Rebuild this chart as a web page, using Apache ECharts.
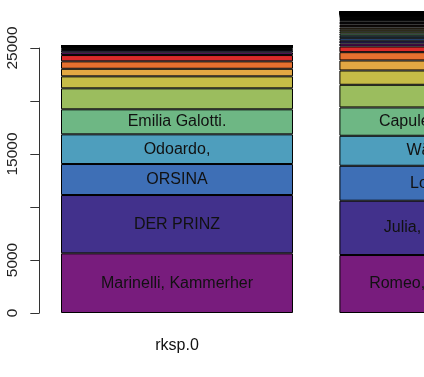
<!DOCTYPE html>
<html>
<head>
<meta charset="utf-8">
<script src="https://cdn.jsdelivr.net/npm/echarts@6/dist/echarts.min.js"></script>
<style>
html,body{margin:0;padding:0;background:#fff;}
#c{width:424px;height:377px;}
</style>
</head>
<body>
<div id="c"></div>
<script>
// Categories (plays)
const categories = ['rksp.0', 'rksp.1'];
// Character word counts by rank (largest first), per play
const play1Values = [5630, 5500, 2925, 2800, 2360, 1980, 1130, 715, 700, 595, 255, 215, 120, 90, 60, 45, 35, 25, 20, 15, 10];
const play2Values = [5470, 5120, 3300, 2830, 2670, 2140, 1350, 945, 780, 540,
  280, 260, 240, 230, 220, 200, 190, 170, 150, 130,
  150, 140, 120, 100, 90, 80, 70, 60, 55, 50, 40, 35, 30, 28, 25, 22, 20, 15, 12, 10, 8, 8, 6, 5, 5];
// Segment labels (character names) per play, by rank
const play1Names = ['Marinelli, Kammerher', 'DER PRINZ', 'ORSINA', 'Odoardo,', 'Emilia Galotti.'];
const play2Names = ['Romeo, Montagues Soh', 'Julia, Capulets Toch', 'Lorenzo, Abt', 'Wärterin Julia', 'Capulet, Haupt des H'];
// Y tick labels
const yTicks = [0, 5000, 10000, 15000, 20000, 25000];
const yTickLabels = ['0', '5000', '', '15000', '', '25000'];

const palette = ['#781c7d', '#42318c', '#3e6fb6', '#4e9ebd', '#6eb784', '#9bbd5e', '#c6bc47', '#e3a843', '#e6702f', '#db2a2a'];

const n = Math.max(play1Values.length, play2Values.length);
const series = [];
for (let i = 0; i < n; i++) {
  series.push({
    type: 'bar',
    stack: 'total',
    xAxisIndex: 0,
    yAxisIndex: 0,
    barCategoryGap: '16.667%',
    data: [
      i < play1Values.length ? play1Values[i] : '-',
      i < play2Values.length ? play2Values[i] : '-'
    ],
    itemStyle: { color: palette[i % palette.length], borderColor: '#000', borderWidth: 1 },
    label: {
      show: i < 5,
      position: 'inside',
      color: '#111',
      fontFamily: 'Liberation Sans, Arial, sans-serif',
      fontSize: 16,
      formatter: function (p) { return p.dataIndex === 0 ? (play1Names[i] || '') : (play2Names[i] || ''); }
    },
    emphasis: { disabled: true },
    animation: false
  });
}

const chart = echarts.init(document.getElementById('c'), null, { renderer: 'canvas' });
chart.setOption({
  animation: false,
  backgroundColor: '#fff',
  grid: [
    { left: 37.8, width: 556.8, top: -5, height: 318, outerBoundsMode: 'none', containLabel: false },
    { left: 39.3, width: 1, top: 48, height: 265, outerBoundsMode: 'none', containLabel: false }
  ],
  xAxis: [
    {
      type: 'category', gridIndex: 0, data: categories,
      axisLine: { show: false }, axisTick: { show: false },
      axisLabel: { color: '#111', fontFamily: 'Liberation Sans, Arial, sans-serif', fontSize: 16, margin: 25 }
    },
    { type: 'value', gridIndex: 1, show: false }
  ],
  yAxis: [
    { type: 'value', gridIndex: 0, min: 0, max: 30000, show: false, splitLine: { show: false } },
    {
      type: 'value', gridIndex: 1, min: yTicks[0], max: yTicks[yTicks.length - 1], interval: 5000,
      axisLine: { show: true, lineStyle: { color: '#333', width: 1 } },
      axisTick: { show: true, length: 9, lineStyle: { color: '#333', width: 1 } },
      splitLine: { show: false },
      axisLabel: {
        rotate: 90, margin: 19, color: '#222',
        fontFamily: 'Liberation Sans, Arial, sans-serif', fontSize: 15.5,
        formatter: function (v) { const k = yTicks.indexOf(v); return k >= 0 ? yTickLabels[k] : ''; }
      }
    }
  ],
  series: series
});
</script>
</body>
</html>
